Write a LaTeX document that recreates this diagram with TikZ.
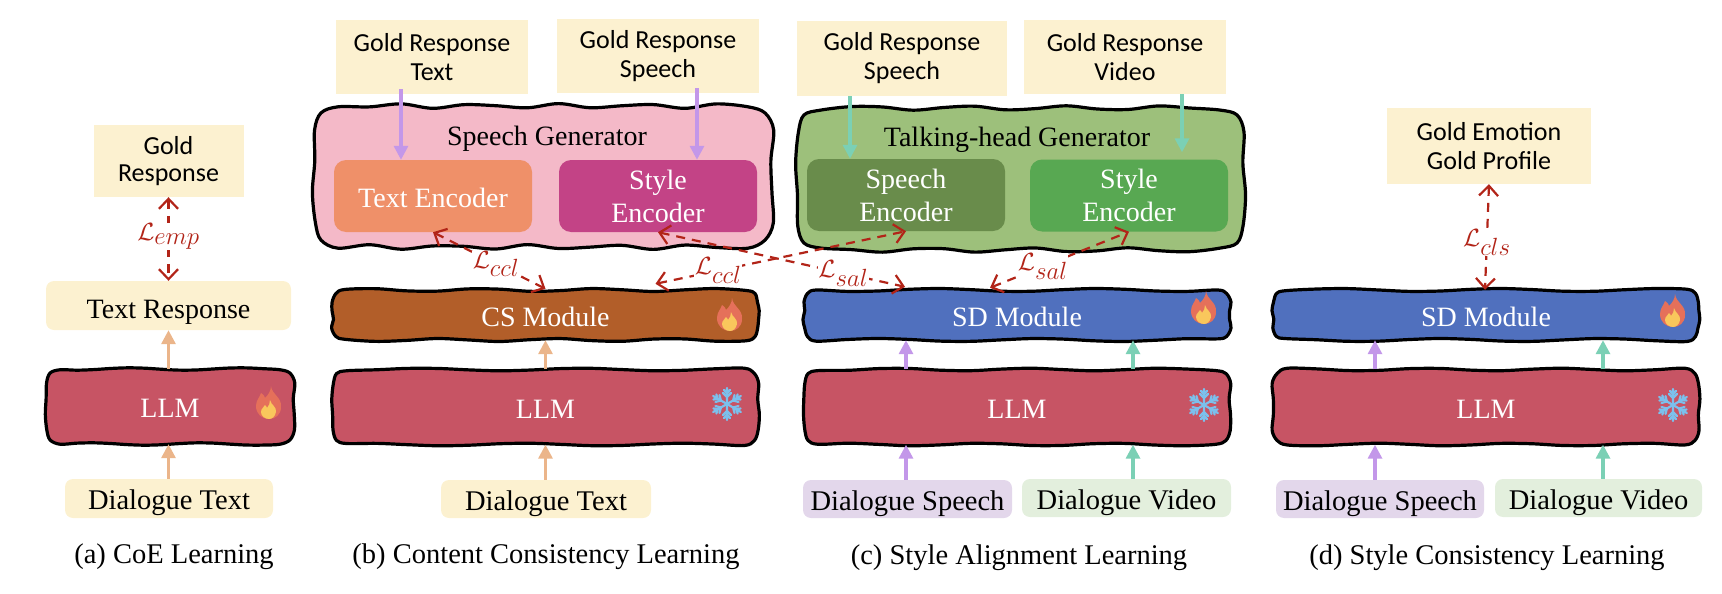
\documentclass[tikz,border=0pt]{standalone}
\usepackage{fontspec}
\setmainfont{Liberation Serif}
\newfontfamily\handfont{Carlito}
\usetikzlibrary{arrows.meta,calc}
\definecolor{cream}{HTML}{FCF1D0}
\definecolor{llmred}{HTML}{C75464}
\definecolor{sdblue}{HTML}{5070BE}
\definecolor{csbrown}{HTML}{B25E29}
\definecolor{genpink}{HTML}{F4B9C8}
\definecolor{textenc}{HTML}{EF9069}
\definecolor{styleenc}{HTML}{C34386}
\definecolor{gengreen}{HTML}{9DC07B}
\definecolor{speechenc}{HTML}{698C4B}
\definecolor{styleencg}{HTML}{58A852}
\definecolor{lilac}{HTML}{E3D7EB}
\definecolor{palegreen}{HTML}{E3EFDD}
\definecolor{arrpurple}{HTML}{C397E9}
\definecolor{arrteal}{HTML}{7BD0B5}
\definecolor{arrpeach}{HTML}{EBB58A}
\definecolor{lossred}{HTML}{B22418}
\definecolor{flakeblue}{HTML}{7CC0EC}
\definecolor{flameout}{HTML}{E5705A}
\definecolor{flamein}{HTML}{F9C75C}
% hand-drawn outline: cx cy w h fill radius amplitude phase frequency
\newcommand\wobshape[9]{%
  \pgfmathsetmacro\wxL{#1-#3/2}\pgfmathsetmacro\wxR{#1+#3/2}%
  \pgfmathsetmacro\wyT{#2-#4/2}\pgfmathsetmacro\wyB{#2+#4/2}%
  \def\wrad{#6}%
  \def\wT##1{({\wxL+\wrad+##1*(\wxR-\wxL-2*\wrad)},{\wyT+#7*sin(#9*##1*360+#8)})}%
  \def\wB##1{({\wxL+\wrad+##1*(\wxR-\wxL-2*\wrad)},{\wyB+#7*sin(#9*##1*360+#8+130)})}%
  \def\wLe##1{({\wxL+#7*.7*sin(##1*400+#8)},{\wyT+\wrad+##1*(\wyB-\wyT-2*\wrad)})}%
  \def\wRi##1{({\wxR+#7*.7*sin(##1*400+#8+70)},{\wyT+\wrad+##1*(\wyB-\wyT-2*\wrad)})}%
  \draw[draw=black,fill=#5,line width=3.2pt,line join=round]
    plot[smooth cycle,tension=.55] coordinates {
      ({\wxL+.29*\wrad},{\wyT+.29*\wrad})
      \wT{0} \wT{.077} \wT{.154} \wT{.231} \wT{.308} \wT{.385} \wT{.462}
      \wT{.538} \wT{.615} \wT{.692} \wT{.769} \wT{.846} \wT{.923} \wT{1}
      ({\wxR-.29*\wrad},{\wyT+.29*\wrad})
      \wRi{0} \wRi{.33} \wRi{.67} \wRi{1}
      ({\wxR-.29*\wrad},{\wyB-.29*\wrad})
      \wB{1} \wB{.923} \wB{.846} \wB{.769} \wB{.692} \wB{.615} \wB{.538}
      \wB{.462} \wB{.385} \wB{.308} \wB{.231} \wB{.154} \wB{.077} \wB{0}
      ({\wxL+.29*\wrad},{\wyB-.29*\wrad})
      \wLe{1} \wLe{.67} \wLe{.33} \wLe{0}
    };%
}
\newcommand\lowtxt[1]{\raisebox{-11pt}[0pt][0pt]{#1}}
\tikzset{
  gold/.style={fill=cream,inner sep=0pt,align=center,text=black,
    font=\handfont\fontsize{26}{29}\selectfont},
  softbox/.style={rounded corners=8pt,inner sep=0pt,align=center,text=black,
    font=\fontsize{28.5}{33}\selectfont},
  encoder/.style={rounded corners=12pt,inner sep=0pt,align=center,text=white,
    minimum width=198pt,minimum height=72pt,font=\fontsize{28}{33}\selectfont},
  holder/.style={inner sep=0pt,align=center,font=\fontsize{28}{33}\selectfont},
  module/.style={holder,minimum width=426pt,minimum height=50pt,text=white},
  llm/.style={holder,minimum width=426pt,minimum height=75pt,text=white},
  caption/.style={inner sep=0pt,font=\fontsize{28.5}{32}\selectfont},
  flow/.style={line width=3.2pt,-{Triangle[length=14pt,width=14pt]}},
  loss/.style={draw=lossred,line width=2.2pt,dash pattern=on 9pt off 7pt,
    {Straight Barb[length=10pt,width=19pt]}-{Straight Barb[length=10pt,width=19pt]}},
  losslabel/.style={fill=white,inner sep=0.5pt,text=lossred,font=\fontsize{34}{38}\selectfont},
  flame/.pic={
    \fill[flameout] (2,-17) .. controls (3,-8) and (13,-6) .. (12,4)
      .. controls (12,12) and (6,16) .. (0,16)
      .. controls (-7,16) and (-13,11) .. (-13,3)
      .. controls (-13,-3) and (-9,-6) .. (-8,-10)
      .. controls (-5,-8) and (-4,-6) .. (-4,-5)
      .. controls (-1,-8) and (2,-12) .. (2,-17) -- cycle;
    \fill[flamein] (1,-3) .. controls (2,2) and (8,4) .. (7,9)
      .. controls (6,14) and (3,16) .. (0,16)
      .. controls (-4,16) and (-8,13) .. (-8,9)
      .. controls (-8,5) and (-5,5) .. (-4,2)
      .. controls (-3,3) and (-2,4) .. (-2,5)
      .. controls (0,3) and (1,0) .. (1,-3) -- cycle;
  },
  flake/.pic={
    \foreach \a in {30,90,...,330}{
      \draw[flakeblue,line width=2.2pt,line cap=round,rotate=\a]
        (0,0) -- (16,0) (7,0) -- (11,-4) (7,0) -- (11,4) (11,0) -- (14,-3) (11,0) -- (14,3);
    }
  }
}
\begin{document}
\begin{tikzpicture}[x=1pt,y=-1pt]
\useasboundingbox (0,0) rectangle (1722,594);
% ---------- generators
\wobshape{543}{176.5}{458}{141}{genpink}{24}{2.4}{20}{5}
\wobshape{1020.5}{179}{447}{142}{gengreen}{24}{2.2}{110}{4}
\node[holder,minimum width=458pt,minimum height=141pt] (sg) at (543,176.5) {};
\node[holder,minimum width=447pt,minimum height=142pt] (tg) at (1020.5,179) {};
\node[inner sep=0pt,font=\fontsize{28}{33}\selectfont] (sgt) at (547,139) {Speech Generator};
\node[inner sep=0pt,font=\fontsize{28}{33}\selectfont] (tgt) at (1017,140) {Talking-head Generator};
\node[encoder,fill=textenc] (te) at (433,196) {\lowtxt{Text Encoder}};
\node[encoder,fill=styleenc] (se) at (658,196) {Style\\Encoder};
\node[encoder,fill=speechenc] (pe) at (906,195) {Speech\\Encoder};
\node[encoder,fill=styleencg] (ye) at (1129,195.5) {Style\\Encoder};
% ---------- gold boxes
\node[gold,minimum width=150pt,minimum height=72pt,font=\handfont\fontsize{26}{27}\selectfont] (ga) at (168.5,161) {Gold\\Response};
\node[gold,minimum width=192pt,minimum height=74pt] (gt) at (432,57) {Gold Response\\Text};
\node[gold,minimum width=202pt,minimum height=74pt] (gs) at (658,56) {Gold Response\\Speech};
\node[gold,minimum width=210pt,minimum height=75pt] (gc) at (902,58.5) {Gold Response\\Speech};
\node[gold,minimum width=202pt,minimum height=74pt] (gv) at (1125,57) {Gold Response\\Video};
\node[gold,minimum width=204pt,minimum height=76pt] (ge) at (1489,146) {Gold Emotion\\Gold Profile};
% ---------- panel a
\node[softbox,fill=cream,minimum width=245pt,minimum height=49pt,font=\fontsize{28}{33}\selectfont] (tr) at (168.5,305.5) {\raisebox{-13pt}[0pt][0pt]{Text Response}};
\wobshape{170}{406.5}{248}{75}{llmred}{14}{1.2}{40}{2}
\node[llm,minimum width=248pt] (la) at (170,406.5) {\lowtxt{LLM}};
\node[softbox,fill=cream,minimum width=208pt,minimum height=39pt] (da) at (169,498.5) {\lowtxt{Dialogue Text}};
\node[caption] (ca) at (174,557) {(a) CoE Learning};
% ---------- panel b
\wobshape{545.5}{315}{426}{50}{csbrown}{12}{1.5}{200}{3.5}
\node[module] (cs) at (545.5,315) {\lowtxt{CS Module}};
\wobshape{545.5}{407}{426}{75}{llmred}{14}{1.3}{100}{2.5}
\node[llm] (lb) at (545.5,407) {\lowtxt{LLM}};
\node[softbox,fill=cream,minimum width=210pt,minimum height=38pt] (db) at (546,499) {\lowtxt{Dialogue Text}};
\node[caption] (cb) at (546,557) {(b) Content Consistency Learning};
% ---------- panel c
\wobshape{1017}{315}{426}{50}{sdblue}{12}{1.5}{0}{2.5}
\node[module] (sc) at (1017,315) {\lowtxt{SD Module}};
\wobshape{1017}{407}{426}{75}{llmred}{14}{1.3}{60}{3}
\node[llm] (lc) at (1017,407) {\lowtxt{LLM}};
\node[softbox,fill=lilac,minimum width=209pt,minimum height=38pt] (dsc) at (907.5,499) {\lowtxt{Dialogue Speech}};
\node[softbox,fill=palegreen,minimum width=209pt,minimum height=38pt] (dvc) at (1126.5,498) {\lowtxt{Dialogue Video}};
\node[caption] (cc) at (1019,558) {(c) Style Alignment Learning};
% ---------- panel d
\wobshape{1486}{315}{426}{50}{sdblue}{12}{1.5}{150}{2.5}
\node[module] (sd) at (1486,315) {\lowtxt{SD Module}};
\wobshape{1486}{407}{426}{75}{llmred}{14}{1.3}{250}{3}
\node[llm] (ld) at (1486,407) {\lowtxt{LLM}};
\node[softbox,fill=lilac,minimum width=208pt,minimum height=38pt] (dsd) at (1380,499) {\lowtxt{Dialogue Speech}};
\node[softbox,fill=palegreen,minimum width=207pt,minimum height=38pt] (dvd) at (1598.5,498) {\lowtxt{Dialogue Video}};
\node[caption] (cd) at (1487,558) {(d) Style Consistency Learning};
% ---------- icons
\pic at (269,403) {flame};
\pic at (730,315) {flame};
\pic at (1204,308) {flame};
\pic at (1673,311) {flame};
\pic at (727,404) {flake};
\pic at (1204,405) {flake};
\pic at (1673,405) {flake};
% ---------- flows
\draw[flow,arrpeach] ([xshift=-1.5pt]la.north) -- (tr.south);
\draw[flow,arrpeach] ([xshift=-.5pt]da.north) -- ([xshift=-1.5pt]la.south);
\draw[flow,arrpeach] (lb.north) -- (cs.south);
\draw[flow,arrpeach] ([xshift=-.5pt]db.north) -- (lb.south);
\draw[flow,arrpurple] ([xshift=-31pt,yshift=5pt]gt.south) -- ([xshift=-32pt]te.north);
\draw[flow,arrpurple] ([xshift=39pt,yshift=5pt]gs.south) -- ([xshift=39pt]se.north);
\draw[flow,arrteal] ([xshift=-52pt]gc.south) -- ([xshift=-56pt]pe.north);
\draw[flow,arrteal] ([xshift=57pt]gv.south) -- ([xshift=53pt,yshift=7pt]ye.north);
\draw[flow,arrpurple] ([xshift=-1.5pt]dsc.north) -- ([xshift=-111pt]lc.south);
\draw[flow,arrteal] ([xshift=6.5pt]dvc.north) -- ([xshift=116pt]lc.south);
\draw[flow,arrpurple] ([xshift=-111pt]lc.north) -- ([xshift=-111pt]sc.south);
\draw[flow,arrteal] ([xshift=116pt]lc.north) -- ([xshift=116pt]sc.south);
\draw[flow,arrpurple] ([xshift=-5pt]dsd.north) -- ([xshift=-111pt]ld.south);
\draw[flow,arrteal] ([xshift=4.5pt]dvd.north) -- ([xshift=117pt]ld.south);
\draw[flow,arrpurple] ([xshift=-111pt]ld.north) -- ([xshift=-111pt]sd.south);
\draw[flow,arrteal] ([xshift=117pt]ld.north) -- ([xshift=117pt]sd.south);
% ---------- losses
\draw[loss] (ga.south) -- (tr.north) node[pos=.47,losslabel] (l1) {$\mathcal{L}_{emp}$};
\draw[loss] (te.south) -- ([yshift=1pt]cs.north) node[pos=.56,losslabel] (l2) {$\mathcal{L}_{ccl}$};
\draw[loss] ([xshift=110pt,yshift=6pt]cs.north) -- (pe.south) node[pos=.25,losslabel] (l3) {$\mathcal{L}_{ccl}$};
\draw[loss] (se.south) -- ([xshift=-112pt,yshift=3pt]sc.north) node[pos=.75,losslabel] (l4) {$\mathcal{L}_{sal}$};
\draw[loss] ([xshift=-27pt,yshift=2pt]sc.north) -- (ye.south) node[pos=.38,losslabel] (l5) {$\mathcal{L}_{sal}$};
\draw[loss] (ge.south) -- ([xshift=-1pt]sd.north) node[pos=.55,losslabel] (l6) {$\mathcal{L}_{cls}$};
\end{tikzpicture}
\end{document}
